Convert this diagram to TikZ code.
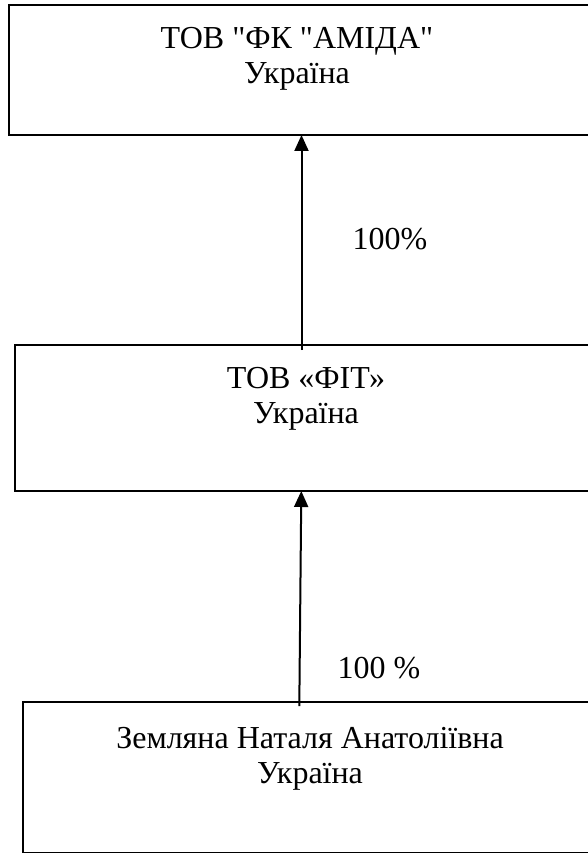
\documentclass[tikz,border=0pt]{standalone}
\usepackage{fontspec}
\setmainfont{Liberation Serif}[Ligatures=TeXOff]
\usetikzlibrary{arrows.meta}
\begin{document}
\begin{tikzpicture}[x=1pt,y=-1pt,
  box/.style={draw=black,line width=2pt,rectangle,inner sep=0pt},
  txt/.style={align=center,font=\fontsize{32}{35}\selectfont,inner sep=0pt},
  lbl/.style={font=\fontsize{32}{35}\selectfont,inner sep=0pt},
  arr/.style={line width=2pt,-{Triangle[width=14pt,length=16pt]}}]
\useasboundingbox (0,0) rectangle (587,853);
\node[box,minimum width=600pt,minimum height=130pt] (b1) at (309,70) {};
\node[box,minimum width=600pt,minimum height=146pt] (b2) at (314.7,417.7) {};
\node[box,minimum width=600pt,minimum height=150.5pt] (b3) at (323,777.25) {};
\node[txt] (t1) at (297,59) {ТОВ "ФК "АМІДА"\\Україна};
\node[txt] (t2) at (306,399) {ТОВ «ФІТ»\\Україна};
\node[txt] (t3) at (310,759) {Земляна Наталя Анатоліївна\\Україна};
\node[lbl] (l1) at (390,239) {100\%};
\node[lbl] (l2) at (379,668) {100 \%};
\coordinate (a1s) at (301.5,350);
\coordinate (a1e) at (301.5,135);
\coordinate (a2s) at (299.3,706);
\coordinate (a2e) at (301.3,491);
\draw[arr] (a1s) -- (a1e);
\draw[arr] (a2s) -- (a2e);
\end{tikzpicture}
\end{document}
